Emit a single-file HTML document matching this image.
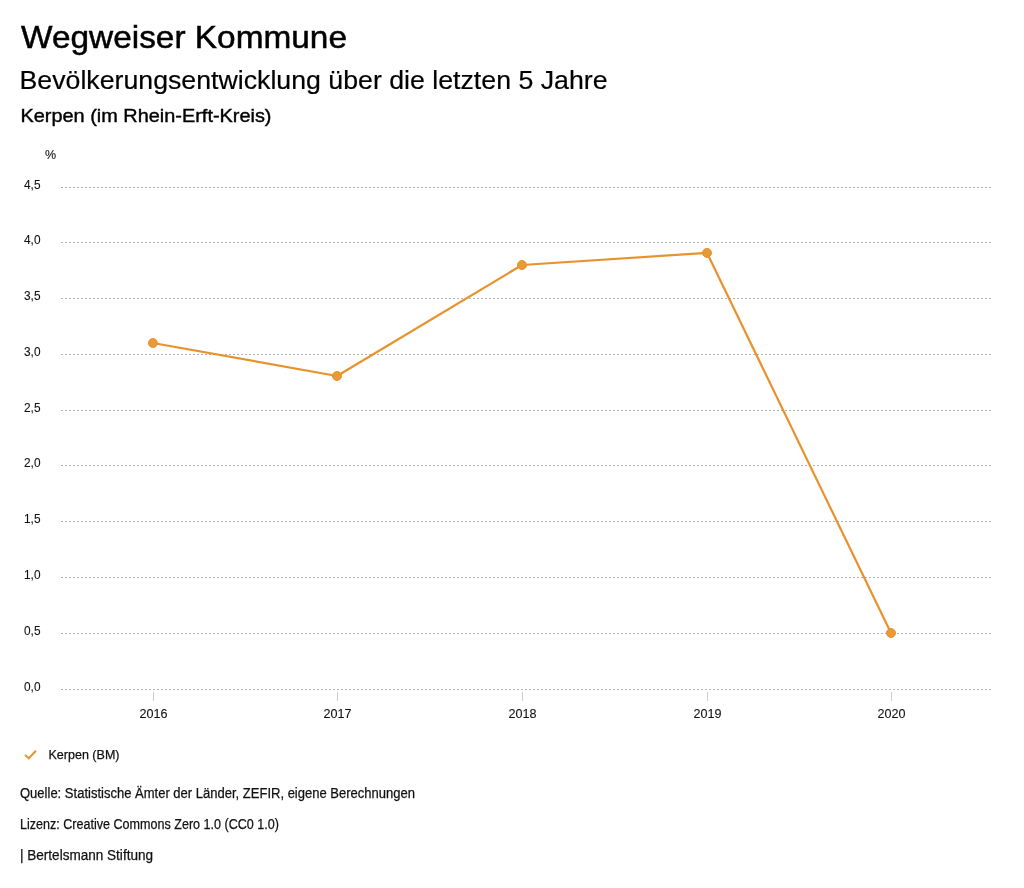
<!DOCTYPE html>
<html><head><meta charset="utf-8"><style>
html,body{margin:0;padding:0;background:#fff;width:1024px;height:888px;overflow:hidden}
svg{display:block;will-change:transform;font-family:"Liberation Sans",sans-serif}
</style></head><body>
<svg width="1024" height="888" viewBox="0 0 1024 888">
<g fill="#000">
<text x="21" y="47.7" font-size="31.5" textLength="326" lengthAdjust="spacingAndGlyphs" stroke="#000" stroke-width="0.5">Wegweiser Kommune</text>
<text x="19.5" y="89" font-size="26" textLength="588" lengthAdjust="spacingAndGlyphs" stroke="#000" stroke-width="0.2">Bevölkerungsentwicklung über die letzten 5 Jahre</text>
<text x="20.5" y="122" font-size="18.5" textLength="251" lengthAdjust="spacingAndGlyphs" stroke="#000" stroke-width="0.4">Kerpen (im Rhein-Erft-Kreis)</text>
</g>
<g fill="#111" stroke="#111" stroke-width="0.1">
<text x="45" y="159" font-size="12.5">%</text>
</g>
<g stroke="#b0b0b0" stroke-width="1" stroke-dasharray="2 2" shape-rendering="crispEdges"><line x1="61" y1="689.5" x2="992" y2="689.5"/><line x1="61" y1="633.5" x2="992" y2="633.5"/><line x1="61" y1="577.5" x2="992" y2="577.5"/><line x1="61" y1="521.5" x2="992" y2="521.5"/><line x1="61" y1="465.5" x2="992" y2="465.5"/><line x1="61" y1="410.5" x2="992" y2="410.5"/><line x1="61" y1="354.5" x2="992" y2="354.5"/><line x1="61" y1="298.5" x2="992" y2="298.5"/><line x1="61" y1="242.5" x2="992" y2="242.5"/><line x1="61" y1="187.5" x2="992" y2="187.5"/></g>
<g font-size="13" fill="#111" stroke="#111" stroke-width="0.1"><text x="40.5" y="691" text-anchor="end" textLength="16.5" lengthAdjust="spacingAndGlyphs">0,0</text><text x="40.5" y="635" text-anchor="end" textLength="16.5" lengthAdjust="spacingAndGlyphs">0,5</text><text x="40.5" y="579" text-anchor="end" textLength="16.5" lengthAdjust="spacingAndGlyphs">1,0</text><text x="40.5" y="523" text-anchor="end" textLength="16.5" lengthAdjust="spacingAndGlyphs">1,5</text><text x="40.5" y="467" text-anchor="end" textLength="16.5" lengthAdjust="spacingAndGlyphs">2,0</text><text x="40.5" y="412" text-anchor="end" textLength="16.5" lengthAdjust="spacingAndGlyphs">2,5</text><text x="40.5" y="356" text-anchor="end" textLength="16.5" lengthAdjust="spacingAndGlyphs">3,0</text><text x="40.5" y="300" text-anchor="end" textLength="16.5" lengthAdjust="spacingAndGlyphs">3,5</text><text x="40.5" y="244" text-anchor="end" textLength="16.5" lengthAdjust="spacingAndGlyphs">4,0</text><text x="40.5" y="189" text-anchor="end" textLength="16.5" lengthAdjust="spacingAndGlyphs">4,5</text></g>
<g stroke="#ccc" stroke-width="1" shape-rendering="crispEdges"><line x1="153.5" y1="692" x2="153.5" y2="700.5"/><line x1="337.5" y1="692" x2="337.5" y2="700.5"/><line x1="522.5" y1="692" x2="522.5" y2="700.5"/><line x1="707.5" y1="692" x2="707.5" y2="700.5"/><line x1="891.5" y1="692" x2="891.5" y2="700.5"/></g>
<g font-size="13" fill="#111" stroke="#111" stroke-width="0.1"><text x="153.5" y="717.7" text-anchor="middle" textLength="28" lengthAdjust="spacingAndGlyphs">2016</text><text x="337.5" y="717.7" text-anchor="middle" textLength="28" lengthAdjust="spacingAndGlyphs">2017</text><text x="522.5" y="717.7" text-anchor="middle" textLength="28" lengthAdjust="spacingAndGlyphs">2018</text><text x="707.5" y="717.7" text-anchor="middle" textLength="28" lengthAdjust="spacingAndGlyphs">2019</text><text x="891.5" y="717.7" text-anchor="middle" textLength="28" lengthAdjust="spacingAndGlyphs">2020</text></g>
<path d="M152.9,343.00 L337.0,376.00 L522.0,265.00 L707.0,252.90 L891.0,633.00" fill="none" stroke="#e8922e" stroke-width="2.2" stroke-linejoin="round"/>
<g fill="#ea9937" stroke="#e8922e" stroke-width="1"><circle cx="152.9" cy="343.00" r="4.5"/><circle cx="337.0" cy="376.00" r="4.5"/><circle cx="522.0" cy="265.00" r="4.5"/><circle cx="707.0" cy="252.90" r="4.5"/><circle cx="891.0" cy="633.00" r="4.5"/></g>
<path d="M25,755 L28.8,758.3 L36,750.8" fill="none" stroke="#ea9530" stroke-width="2"/>
<g fill="#111" stroke="#111" stroke-width="0.25">
<text x="48.5" y="758.8" font-size="13" textLength="71" lengthAdjust="spacingAndGlyphs">Kerpen (BM)</text>
<text x="20" y="798.2" font-size="14" textLength="395" lengthAdjust="spacingAndGlyphs">Quelle: Statistische Ämter der Länder, ZEFIR, eigene Berechnungen</text>
<text x="20" y="828.7" font-size="14" textLength="259" lengthAdjust="spacingAndGlyphs">Lizenz: Creative Commons Zero 1.0 (CC0 1.0)</text>
<text x="20" y="859.7" font-size="14" textLength="133" lengthAdjust="spacingAndGlyphs">| Bertelsmann Stiftung</text>
</g>
</svg>
</body></html>
